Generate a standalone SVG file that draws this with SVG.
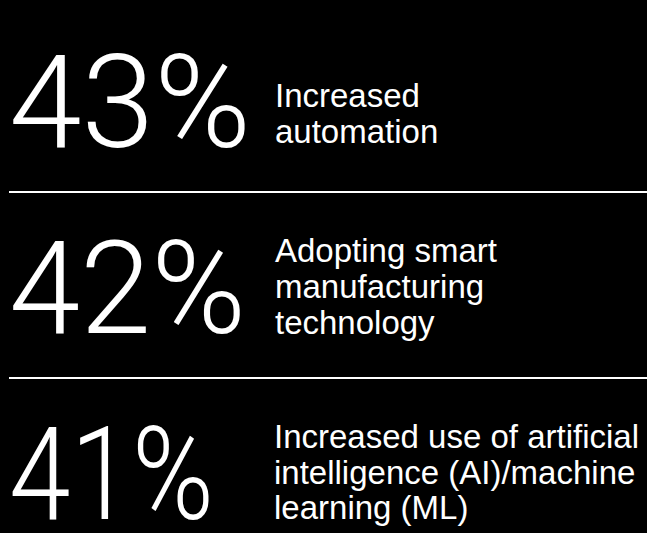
<svg xmlns="http://www.w3.org/2000/svg" width="647" height="533" viewBox="0 0 647 533">
<style>
.num{font-family:Roboto,"Liberation Sans",sans-serif;font-weight:300;font-size:130px;fill:#fff}
.lbl{font-family:"Liberation Sans",Arial,sans-serif;font-size:33px;fill:#fff}
.sep{stroke:#fff;stroke-width:2}
</style>
<rect width="647" height="533" fill="#000"/>
<g id="stat-43">
<text class="num" x="9" y="147" textLength="242" lengthAdjust="spacingAndGlyphs">43%</text>
<text class="lbl" x="275" y="107">Increased</text>
<text class="lbl" x="275" y="143">automation</text>
</g>
<g id="separators">
<line class="sep" x1="9" y1="192" x2="647" y2="192"/>
<line class="sep" x1="9" y1="378" x2="647" y2="378"/>
</g>
<g id="stat-42">
<text class="num" x="9" y="333" textLength="237" lengthAdjust="spacingAndGlyphs">42%</text>
<text class="lbl" x="275" y="262">Adopting smart</text>
<text class="lbl" x="275" y="298">manufacturing</text>
<text class="lbl" x="275" y="334">technology</text>
</g>
<g id="stat-41">
<text class="num" x="9" y="519" textLength="205" lengthAdjust="spacingAndGlyphs">41%</text>
<text class="lbl" x="274" y="448">Increased use of artificial</text>
<text class="lbl" x="274" y="483.5">intelligence (AI)/machine</text>
<text class="lbl" x="274" y="519">learning (ML)</text>
</g>
</svg>
